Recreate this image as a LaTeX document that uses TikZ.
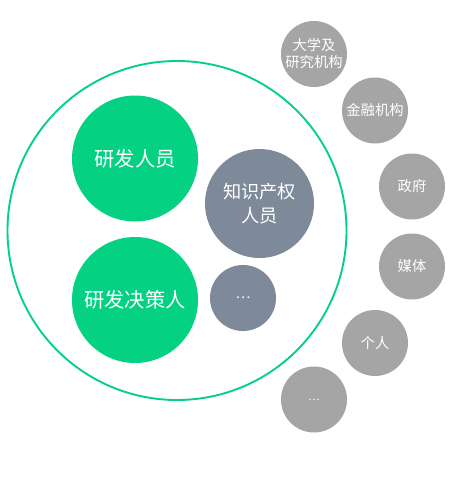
\documentclass[tikz,border=0pt]{standalone}
\usepackage{fontspec}
\setmainfont{Noto Sans CJK SC}
\definecolor{cgreen}{HTML}{05D182}
\definecolor{cblue}{HTML}{7E8A99}
\definecolor{cgray}{HTML}{A5A5A5}
\tikzset{
  bub/.style={circle, inner sep=0pt, text=white, align=center},
  gbub/.style={bub, fill=cgreen, minimum size=126pt, font=\fontsize{20.3}{24}\selectfont},
  bbub/.style={bub, fill=cblue, font=\fontsize{18.2}{24}\selectfont},
  xbub/.style={bub, fill=cgray, minimum size=66pt, font=\fontsize{14.3}{17}\selectfont},
}
\begin{document}
\begin{tikzpicture}[x=1pt,y=-1pt]
\useasboundingbox (0,0) rectangle (450,490);
\node[circle, draw=cgreen, line width=1.9pt, minimum size=339pt, inner sep=0pt] (outer) at (177,230.5) {};
\node[gbub] (rd) at (135,158.5) {研发人员};
\node[gbub] (rdd) at (135,300) {研发决策人};
\node[bbub, minimum size=109pt] (ip) at (259.5,203.5) {知识产权\\人员};
\node[bbub, minimum size=66pt, font=\fontsize{14}{16}\selectfont] (more1) at (243,298) {…};
\node[xbub] (uni) at (314,54) {大学及\\研究机构};
\node[xbub] (fin) at (375,110.5) {金融机构};
\node[xbub] (gov) at (412,186.5) {政府};
\node[xbub] (media) at (412,266.5) {媒体};
\node[xbub] (per) at (375,343) {个人};
\node[xbub, font=\fontsize{11}{14}\selectfont] (more2) at (314,399.5) {…};
\end{tikzpicture}
\end{document}
